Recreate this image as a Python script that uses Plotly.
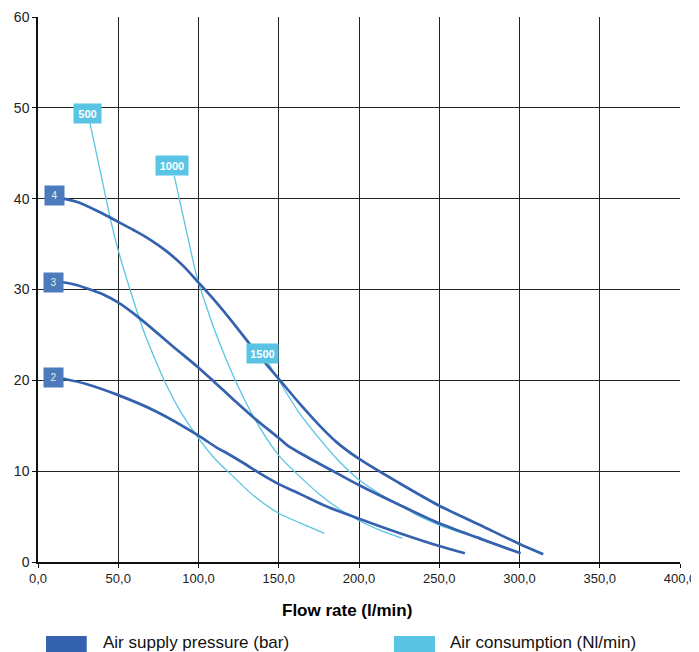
import plotly.graph_objects as go

# ---- data ----
p4_x = [15.8, 25, 38.6, 49.4, 60, 69.8, 80.2, 90.5, 99.3, 110, 121.7, 135, 150.8, 163.2, 175, 186, 199.6, 225, 250, 275, 299.7, 314.8]
p4_y = [40.0, 39.6, 38.5, 37.5, 36.5, 35.5, 34.2, 32.6, 30.9, 28.8, 26.3, 23.3, 20.0, 17.4, 15.1, 13.2, 11.4, 8.7, 6.2, 4.1, 2.0, 0.85]

p3_x = [15.4, 24, 32.4, 40, 49.6, 63.6, 84.3, 99.3, 110, 121.7, 135, 149.7, 155, 163.2, 175, 187, 199.6, 225, 250, 275, 300.7]
p3_y = [30.8, 30.5, 30.0, 29.5, 28.6, 26.8, 23.7, 21.5, 19.8, 17.9, 15.8, 13.7, 12.9, 12.0, 10.85, 9.7, 8.5, 6.3, 4.26, 2.6, 0.96]

p2_x = [15.4, 30, 49.6, 73.9, 99.3, 111.3, 117.5, 128, 138.3, 149.7, 163.2, 180, 199.6, 225, 250, 266]
p2_y = [20.2, 19.6, 18.4, 16.55, 14.0, 12.6, 12.0, 10.9, 9.75, 8.6, 7.5, 6.1, 4.8, 3.2, 1.76, 0.96]

a500_x = [32.4, 38.6, 44.9, 49.4, 57.3, 65.6, 72, 78.1, 88, 99.3, 110, 121.7, 135, 149.7, 163.2, 178.4]
a500_y = [48.3, 43.2, 37.95, 34.7, 30.0, 25.55, 22.7, 20.2, 16.8, 13.8, 11.4, 9.4, 7.2, 5.4, 4.3, 3.16]

a1000_x = [84.9, 92, 99.3, 105, 110.3, 122.7, 135.2, 149.7, 163.2, 175.7, 188, 199.6, 213, 227]
a1000_y = [42.5, 36.8, 31.2, 28.1, 25.4, 20.1, 15.7, 11.8, 9.4, 7.4, 5.8, 4.6, 3.5, 2.6]

a1500_x = [143.5, 149.7, 163.2, 175.7, 187, 199.6, 212, 225, 237, 250, 263, 275.8]
a1500_y = [21.9, 20.1, 16.3, 13.5, 11.2, 9.1, 7.6, 6.3, 5.1, 4.07, 3.3, 2.7]

pressure_labels = ["4", "3", "2"]
pressure_label_x = [10.4, 9.8, 9.6]
pressure_label_y = [40.3, 30.8, 20.3]

air_labels = ["500", "1000", "1500"]
air_label_x = [31.0, 83.4, 139.9]
air_label_y = [49.4, 43.65, 22.9]

x_ticks = [0, 50, 100, 150, 200, 250, 300, 350, 400]
y_ticks = [0, 10, 20, 30, 40, 50, 60]

x_title = "Flow rate (l/min)"
legend_names = ["Air supply pressure (bar)", "Air consumption (Nl/min)"]

DARK = "#3462ae"
LIGHT = "#5ac4e4"
DARK_BOX = "#4b7bbd"
FONT = "Liberation Sans, Arial"

fig = go.Figure()

for xs, ys in [(a500_x, a500_y), (a1000_x, a1000_y), (a1500_x, a1500_y)]:
    fig.add_trace(go.Scatter(x=xs, y=ys, mode="lines",
                             line=dict(color=LIGHT, width=1.3, shape="spline", smoothing=0.8),
                             showlegend=False, hoverinfo="skip"))

for xs, ys in [(p4_x, p4_y), (p3_x, p3_y), (p2_x, p2_y)]:
    fig.add_trace(go.Scatter(x=xs, y=ys, mode="lines",
                             line=dict(color=DARK, width=2.7, shape="spline", smoothing=0.8),
                             showlegend=False, hoverinfo="skip"))

annotations = []
for t, x, y in zip(pressure_labels, pressure_label_x, pressure_label_y):
    annotations.append(dict(x=x, y=y, xref="x", yref="y", text=t, showarrow=False,
                            bgcolor=DARK_BOX, width=19, height=19, borderpad=0,
                            font=dict(family=FONT, size=10, color="#eeeedd")))
air_w = [27, 32, 31]
for t, x, y, w in zip(air_labels, air_label_x, air_label_y, air_w):
    annotations.append(dict(x=x, y=y, xref="x", yref="y", text="<b>" + t + "</b>", showarrow=False,
                            bgcolor=LIGHT, width=w, height=19, borderpad=0,
                            font=dict(family=FONT, size=11, color="white")))

# x-axis title and legend drawn in paper space (plot area spans 545 px high, 642 px wide)
annotations.append(dict(x=0.482, y=-0.0885, xref="paper", yref="paper", text="<b>" + x_title + "</b>",
                        showarrow=False, xanchor="center", yanchor="middle",
                        font=dict(family=FONT, size=17, color="#000")))
annotations.append(dict(x=0.0981, y=-0.1468, xref="paper", yref="paper", text=legend_names[0],
                        showarrow=False, xanchor="left", yanchor="middle",
                        font=dict(family=FONT, size=17, color="#111")))
annotations.append(dict(x=0.6386, y=-0.1468, xref="paper", yref="paper", text=legend_names[1],
                        showarrow=False, xanchor="left", yanchor="middle",
                        font=dict(family=FONT, size=17, color="#111")))

shapes = [
    dict(type="rect", xref="paper", yref="paper", x0=0.0125, x1=0.0759, y0=-0.1358, y1=-0.2,
         fillcolor=DARK, line=dict(width=0)),
    dict(type="rect", xref="paper", yref="paper", x0=0.5545, x1=0.6184, y0=-0.1358, y1=-0.2,
         fillcolor=LIGHT, line=dict(width=0)),
]

# the page body adds an 8 px offset, so the figure is sized/margined to land the
# plot area at the same window pixels as the reference
fig.update_layout(
    width=691, height=644,
    margin=dict(l=30, r=19, t=9, b=90, autoexpand=False),
    paper_bgcolor="white", plot_bgcolor="white",
    separators=",.",
    font=dict(family=FONT, size=13, color="#222"),
    annotations=annotations, shapes=shapes,
    showlegend=False,
)
fig.update_xaxes(range=[0, 400], tickvals=x_ticks, tickformat=".1f", automargin=False,
                 showgrid=True, gridcolor="#222", gridwidth=1,
                 showline=True, linecolor="#111", linewidth=1.5,
                 ticks="outside", ticklen=4, tickcolor="#111",
                 zeroline=False, tickfont=dict(size=13))
fig.update_yaxes(range=[0, 60], tickvals=y_ticks, automargin=False,
                 showgrid=True, gridcolor="#222", gridwidth=1,
                 showline=True, linecolor="#111", linewidth=1.5,
                 ticks="outside", ticklen=4, tickcolor="#111",
                 zeroline=False, tickfont=dict(size=14))

fig.write_html("out.html")
